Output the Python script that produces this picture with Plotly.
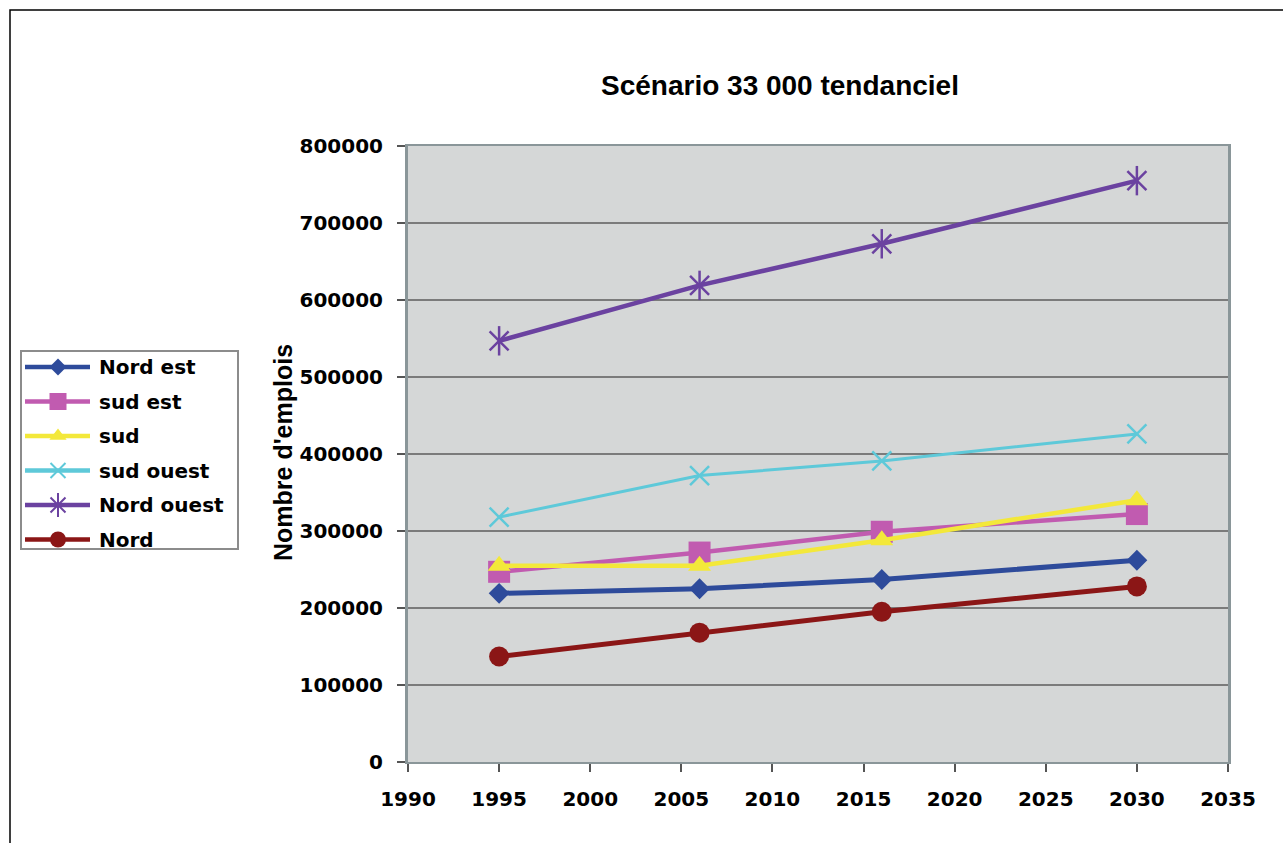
import plotly.graph_objects as go

# ---- data -------------------------------------------------------------
years = [1995, 2006, 2016, 2030]

series_names = ["Nord est", "sud est", "sud", "sud ouest", "Nord ouest", "Nord"]
nord_est = [219000, 225000, 237000, 262000]
sud_est = [247000, 272000, 299000, 322000]
sud = [255000, 255000, 288000, 340000]
sud_ouest = [318000, 372000, 391000, 426000]
nord_ouest = [547000, 619000, 673000, 755000]
nord = [137000, 168000, 195000, 228000]

x_ticks = [1990, 1995, 2000, 2005, 2010, 2015, 2020, 2025, 2030, 2035]
y_ticks = [0, 100000, 200000, 300000, 400000, 500000, 600000, 700000, 800000]

title_text = "Scénario 33 000 tendanciel"
y_title = "Nombre d'emplois"

# ---- styling ----------------------------------------------------------
W, H = 1283, 843


def fx(px):
    return px / W


def fy(py):
    return 1 - py / H


values = [nord_est, sud_est, sud, sud_ouest, nord_ouest, nord]
colors = ["#2e4b9b", "#c15bb0", "#f3e83a", "#5ec9d9", "#6b42a0", "#8b1616"]
symbols = ["diamond", "square", "triangle-up", "x-thin-open", "x-thin-open", "circle"]
marker_sizes = [16, 22, 20, 19, 19, 20]
legend_sizes = [13, 17, 15, 15, 15, 16]
line_widths = [5, 4.5, 4.5, 3, 4.5, 5]

tick_font = dict(family="DejaVu Sans", size=20, color="black", weight="bold")
label_font = dict(family="DejaVu Sans", size=20, color="black", weight="bold")

fig = go.Figure()

# ---- main series ------------------------------------------------------
for name, vals, col, sym, ms, lw in zip(series_names, values, colors, symbols,
                                        marker_sizes, line_widths):
    open_marker = sym.endswith("open")
    fig.add_trace(go.Scatter(
        x=years, y=vals, name=name, mode="lines+markers",
        line=dict(color=col, width=lw),
        marker=dict(symbol=sym, size=ms, color=col, opacity=1,
                    line=dict(color=col, width=2.5 if open_marker else 0)),
        showlegend=False, xaxis="x", yaxis="y",
    ))
    if name == "Nord ouest":
        # vertical stroke completes the star marker
        fig.add_trace(go.Scatter(
            x=years, y=vals, mode="markers",
            marker=dict(symbol="line-ns-open", size=ms + 2, color=col,
                        opacity=1, line=dict(color=col, width=2.5)),
            showlegend=False, hoverinfo="skip", xaxis="x", yaxis="y",
        ))

# ---- hand-built legend box -------------------------------------------
leg_left, leg_top, leg_right, leg_bottom = 22, 352, 237, 548
row_gap = 34.5
row0 = 15
line_x = [3, 36, 68]
for i, (name, col, sym, ls) in enumerate(zip(series_names, colors, symbols,
                                            legend_sizes)):
    ry = row0 + i * row_gap
    open_marker = sym.endswith("open")
    fig.add_trace(go.Scatter(
        x=line_x, y=[ry] * 3, mode="lines+markers",
        line=dict(color=col, width=4.5),
        marker=dict(symbol=sym, size=[0, ls, 0], color=col, opacity=1,
                    line=dict(color=col, width=2 if open_marker else 0)),
        showlegend=False, hoverinfo="skip", xaxis="x2", yaxis="y2",
    ))
    if name == "Nord ouest":
        fig.add_trace(go.Scatter(
            x=[line_x[1]], y=[ry], mode="markers",
            marker=dict(symbol="line-ns-open", size=ls + 2, color=col,
                        opacity=1, line=dict(color=col, width=2)),
            showlegend=False, hoverinfo="skip", xaxis="x2", yaxis="y2",
        ))
    fig.add_annotation(x=75, y=ry, xref="x2", yref="y2", text=name,
                       showarrow=False, xanchor="left", yanchor="middle",
                       font=label_font)

# ---- layout -----------------------------------------------------------
fig.update_layout(
    width=W, height=H,
    margin=dict(l=0, r=0, t=0, b=0, pad=0, autoexpand=False),
    paper_bgcolor="white",
    plot_bgcolor="white",
    xaxis=dict(
        domain=[fx(408), fx(1228)], range=[1990, 2035],
        tickvals=x_ticks, tickfont=tick_font,
        ticks="outside", ticklen=8, tickwidth=1.5, tickcolor="#555555",
        ticklabelstandoff=10, automargin=False,
        showgrid=False, zeroline=False,
        showline=True, linecolor="#8a9699", linewidth=2, mirror=True,
        anchor="y",
    ),
    yaxis=dict(
        domain=[fy(762), fy(146)], range=[0, 800000],
        tickvals=y_ticks, tickformat="d", tickfont=tick_font,
        ticks="outside", ticklen=8, tickwidth=1.5, tickcolor="#555555",
        ticklabelstandoff=10, automargin=False,
        showgrid=True, gridcolor="#7b7b7b", gridwidth=1.5,
        zeroline=False,
        showline=True, linecolor="#8a9699", linewidth=3, mirror=True,
        anchor="x",
    ),
    xaxis2=dict(
        domain=[fx(leg_left), fx(leg_right)], range=[0, leg_right - leg_left],
        showgrid=False, zeroline=False, showticklabels=False, ticks="",
        showline=True, linecolor="#8c8c8c", linewidth=1.5, mirror=True,
        anchor="y2", fixedrange=True, automargin=False,
    ),
    yaxis2=dict(
        domain=[fy(leg_bottom), fy(leg_top)], range=[leg_bottom - leg_top, 0],
        showgrid=False, zeroline=False, showticklabels=False, ticks="",
        showline=True, linecolor="#8c8c8c", linewidth=1.5, mirror=True,
        anchor="x2", fixedrange=True, automargin=False,
    ),
    shapes=[
        # grey plot area, beneath the gridlines
        dict(type="rect", xref="x domain", yref="y domain",
             x0=0, x1=1, y0=0, y1=1, fillcolor="#d5d7d7",
             line=dict(width=0), layer="below"),
        # outer frame of the figure
        dict(type="rect", xref="paper", yref="paper",
             x0=fx(10), x1=1.05, y0=-0.05, y1=fy(10),
             line=dict(color="black", width=1.5), fillcolor="rgba(0,0,0,0)"),
    ],
    annotations=list(fig.layout.annotations) + [
        dict(text=title_text, x=fx(780), y=fy(85), xref="paper", yref="paper",
             showarrow=False, xanchor="center", yanchor="middle",
             font=dict(family="Liberation Sans", size=28, color="black",
                       weight="bold")),
        dict(text=y_title, x=fx(283), y=fy(453), xref="paper", yref="paper",
             showarrow=False, textangle=-90, xanchor="center", yanchor="middle",
             font=dict(family="Liberation Sans", size=25, color="black",
                       weight="bold")),
    ],
)

fig.write_html("out.html")
